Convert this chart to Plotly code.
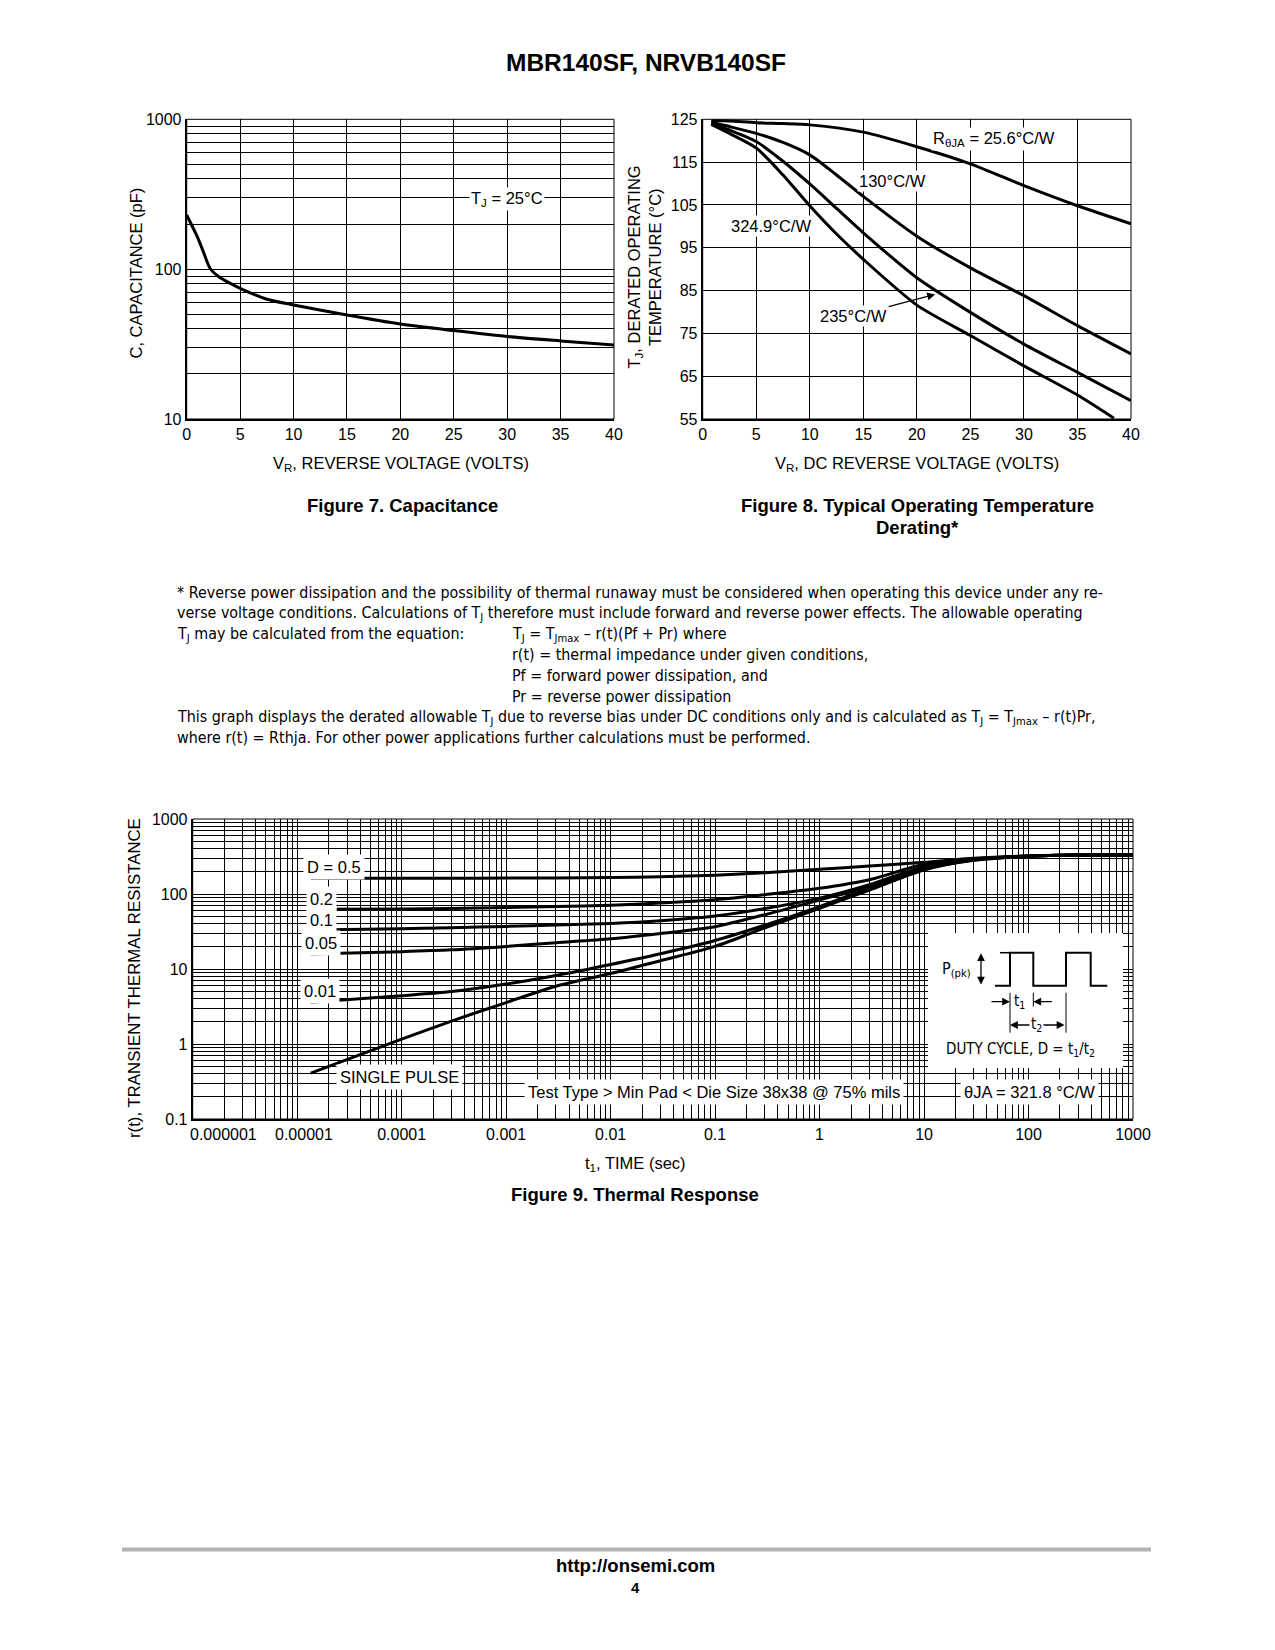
import plotly.graph_objects as go
import numpy as np

# page is 1275x1650; body keeps its default 8px margin, so the figure is 16px smaller
OFF = 8
FW, FH = 1259, 1630
def X(p): return (p - OFF) / FW
def Y(p): return 1 - (p - OFF) / FH

FONT = "Liberation Sans, Arial, Helvetica, sans-serif"
NARROW = "Liberation Sans Narrow, Arial Narrow, DejaVu Sans Condensed, Liberation Sans, sans-serif"

# ---------------- data ----------------
# Figure 7: capacitance
cap_v = [0, 1, 1.5, 2.2, 3, 4, 5, 7.5, 10, 15, 20, 25, 30, 35, 40]
cap_pf = [230, 164, 134, 101, 89, 81, 74.5, 63, 57.7, 49.4, 43, 38.9, 35.5, 33.2, 31.2]

# Figure 8: derating
v_25_6 = [0.8, 2.5, 5, 7.5, 10, 15, 20, 25, 30, 35, 40]
tj_25_6 = [124.7, 124.6, 124.2, 124.0, 123.7, 122.0, 118.6, 114.6, 109.5, 104.8, 100.6]
v_130 = [0.8, 2.5, 5, 7.5, 10, 12.5, 15, 20, 25, 30, 35, 40]
tj_130 = [124.3, 123.3, 121.7, 119.6, 116.7, 112.0, 107.0, 97.7, 90.3, 83.8, 76.8, 70.2]
v_235 = [0.8, 2.5, 5, 7.5, 10, 12.5, 15, 20, 25, 30, 35, 40]
tj_235 = [124.0, 122.5, 119.8, 115.2, 109.9, 104.2, 98.5, 88.0, 79.9, 72.5, 65.9, 59.3]
v_324_9 = [0.8, 2.5, 5, 7.5, 10, 12.5, 15, 20, 25, 30, 35, 38.4]
tj_324_9 = [123.8, 121.7, 118.3, 112.0, 104.8, 98.2, 92.3, 81.6, 74.5, 67.4, 60.6, 55.2]

# Figure 9: thermal response
t_sec = [1.35e-5, 1e-4, 3e-4, 1e-3, 3e-3, 1e-2, 3e-2, 0.1, 0.3, 1, 3, 10, 30, 100, 300, 1000]
r_d05 = [162, 162, 162, 163, 164, 166, 170, 178, 192, 213, 236, 265, 300, 322, 330, 331]
r_d02 = [62.5, 63, 64, 66, 68, 71, 76, 84, 98, 119, 155, 249, 295, 321, 330, 331]
r_d01 = [33, 34.5, 35.5, 37, 38.5, 40.5, 44, 51, 64, 88, 133, 231, 290, 320, 330, 331]
r_d005 = [15.8, 17, 18, 20, 22.4, 25.3, 29.8, 36.7, 53, 83, 126, 224, 287, 319, 330, 331]
r_d001 = [3.6, 4.4, 5.0, 6.3, 8.2, 11.5, 16, 24, 38.5, 68, 120, 214, 284, 318, 330, 331]
r_single = [0.41, 1.16, 2.02, 3.57, 5.9, 8.7, 12.9, 20, 35.5, 64.5, 113, 209, 281, 317, 330, 331]

# tick definitions
cap_x_ticks = [0, 5, 10, 15, 20, 25, 30, 35, 40]
cap_y_decades = [10, 100, 1000]
der_y_ticks = [55, 65, 75, 85, 95, 105, 115, 125]
th_x_decades = [1e-6, 1e-5, 1e-4, 1e-3, 1e-2, 1e-1, 1, 10, 100, 1000]
th_x_labels = ["0.000001", "0.00001", "0.0001", "0.001", "0.01", "0.1", "1", "10", "100", "1000"]
th_y_decades = [0.1, 1, 10, 100, 1000]
th_y_labels = ["0.1", "1", "10", "100", "1000"]


def log_grid(decades, labels, hide=()):
    vals, texts = [], []
    for i, d in enumerate(decades):
        vals.append(d)
        texts.append("" if i in hide else labels[i])
        if i < len(decades) - 1:
            for m in range(2, 10):
                vals.append(d * m)
                texts.append("")
    return vals, texts

cap_yv, cap_yt = log_grid(cap_y_decades, [str(v) for v in cap_y_decades])
th_xv, th_xt = log_grid(th_x_decades, th_x_labels, hide=(0, 1))
th_yv, th_yt = log_grid(th_y_decades, th_y_labels)

fig = go.Figure()
LW = 3
fig.add_trace(go.Scatter(x=cap_v, y=cap_pf, mode="lines", line=dict(color="black", width=LW, shape="spline", smoothing=0.7), xaxis="x", yaxis="y"))
for xs, ys in [(v_25_6, tj_25_6), (v_130, tj_130), (v_235, tj_235), (v_324_9, tj_324_9)]:
    fig.add_trace(go.Scatter(x=xs, y=ys, mode="lines", line=dict(color="black", width=LW, shape="spline", smoothing=0.7), xaxis="x2", yaxis="y2"))
for ys in [r_d05, r_d02, r_d01, r_d005, r_d001, r_single]:
    fig.add_trace(go.Scatter(x=t_sec, y=ys, mode="lines", line=dict(color="black", width=LW, shape="spline", smoothing=0.8), xaxis="x3", yaxis="y3"))

common = dict(showgrid=True, gridcolor="black", gridwidth=1, zeroline=False, showline=True,
              linecolor="black", linewidth=2, ticks="", fixedrange=True, automargin=False,
              tickfont=dict(size=16, family=FONT, color="black"))

fig.update_layout(
    width=FW, height=FH, margin=dict(l=0, r=0, t=0, b=0, pad=0, autoexpand=False),
    paper_bgcolor="white", plot_bgcolor="white", showlegend=False,
    font=dict(family=FONT, color="black", size=16),
    xaxis=dict(common, domain=[X(186.7), X(614)], range=[0, 40], tickvals=cap_x_ticks, anchor="y"),
    yaxis=dict(common, domain=[Y(419), Y(119.3)], type="log", range=[1, 3], tickvals=cap_yv, ticktext=cap_yt, anchor="x"),
    xaxis2=dict(common, domain=[X(702.7), X(1131)], range=[0, 40], tickvals=cap_x_ticks, anchor="y2"),
    yaxis2=dict(common, domain=[Y(419), Y(119.3)], range=[55, 125], tickvals=der_y_ticks, anchor="x2"),
    xaxis3=dict(common, domain=[X(192.7), X(1133)], type="log", range=[-6, 3], tickvals=th_xv, ticktext=th_xt, anchor="y3"),
    yaxis3=dict(common, domain=[Y(1119), Y(819)], type="log", range=[-1, 3], tickvals=th_yv, ticktext=th_yt, anchor="x3"),
)

shapes = []
for xa, ya in [("x", "y"), ("x2", "y2"), ("x3", "y3")]:
    shapes.append(dict(type="rect", xref=xa + " domain", yref=ya + " domain", x0=0, x1=1, y0=0, y1=1,
                       line=dict(color="black", width=1), layer="above"))
# inset box in figure 9
shapes.append(dict(type="rect", xref="paper", yref="paper", x0=X(928), x1=X(1123), y0=Y(1068), y1=Y(933),
                   fillcolor="white", line=dict(width=0), layer="above"))
# pulse waveform
pts = [(995, 985.7), (1010, 985.7), (1010, 952.7), (1033.3, 952.7), (1033.3, 985.7), (1066, 985.7),
       (1066, 952.7), (1090.7, 952.7), (1090.7, 985.7), (1107.3, 985.7)]
path = "M " + " L ".join(f"{X(a):.5f},{Y(b):.5f}" for a, b in pts)
shapes.append(dict(type="path", xref="paper", yref="paper", path=path, line=dict(color="black", width=2), layer="above"))
shapes.append(dict(type="line", xref="paper", yref="paper", x0=X(1000), x1=X(1010), y0=Y(952.7), y1=Y(952.7), line=dict(color="black", width=1.5), layer="above"))
for xx, y0, y1 in [(1010, 992.7, 1032.7), (1033.3, 992.7, 1006.7), (1066, 992.7, 1032.7)]:
    shapes.append(dict(type="line", xref="paper", yref="paper", x0=X(xx), x1=X(xx), y0=Y(y0), y1=Y(y1), line=dict(color="black", width=1), layer="above"))
# footer rule
shapes.append(dict(type="line", xref="paper", yref="paper", x0=X(122), x1=X(1151), y0=Y(1549.6), y1=Y(1549.6), line=dict(color="#b3b3b3", width=4)))
fig.update_layout(shapes=shapes)

ann = []
def txt(x, y, text, size=16.5, bold=False, family=FONT, xanchor="center", yanchor="middle", **kw):
    t = f"<b>{text}</b>" if bold else text
    d = dict(x=X(x), y=Y(y), xref="paper", yref="paper", text=t, showarrow=False,
             xanchor=xanchor, yanchor=yanchor, font=dict(size=size, family=family, color="black"))
    d.update(kw)
    ann.append(d)

# page title and captions
txt(646, 62, "MBR140SF, NRVB140SF", size=24.5, bold=True)
txt(402, 505, "Figure 7. Capacitance", size=18.5, bold=True)
txt(917, 505, "Figure 8. Typical Operating Temperature", size=18.5, bold=True)
txt(917, 528, "Derating*", size=18.5, bold=True)
txt(635, 1194, "Figure 9. Thermal Response", size=18.5, bold=True)
txt(635, 1565, "http://onsemi.com", size=18.5, bold=True)
txt(635, 1587, "4", size=15, bold=True)

# axis titles
txt(401, 464, "V<sub>R</sub>, REVERSE VOLTAGE (VOLTS)", size=16.5)
txt(135, 273.5, "C, CAPACITANCE (pF)", size=16.5, textangle=-90)
txt(634.5, 267, "T<sub>J</sub>, DERATED OPERATING", size=16.5, textangle=-90)
txt(655, 267, "TEMPERATURE (°C)", size=16.5, textangle=-90)
txt(917, 464, "V<sub>R</sub>, DC REVERSE VOLTAGE (VOLTS)", size=16.5)
txt(635, 1163.5, "t<sub>1</sub>, TIME (sec)", size=16.5)
txt(134, 978, "r(t), TRANSIENT THERMAL RESISTANCE", size=16.8, textangle=-90)

# figure 9 first two x labels (offset in original)
txt(223, 1134, "0.000001", size=16)
txt(304, 1134, "0.00001", size=16)

# figure 7 label
ann.append(dict(x=30, y=np.log10(292), xref="x", yref="y", text="T<sub>J</sub> = 25°C", showarrow=False,
                bgcolor="white", font=dict(size=16.5, family=FONT, color="black")))
# figure 8 labels
for xx, yy, t in [(27.2, 120.3, "R<sub>θJA</sub> = 25.6°C/W"), (17.7, 110.7, "130°C/W"), (6.35, 100.0, "324.9°C/W")]:
    ann.append(dict(x=xx, y=yy, xref="x2", yref="y2", text=t, showarrow=False, bgcolor="white",
                    font=dict(size=16.5, family=FONT, color="black")))
ann.append(dict(x=21.7, y=84.1, xref="x2", yref="y2", ax=14.1, ay=79.1, axref="x2", ayref="y2",
                text="235°C/W", showarrow=True, arrowhead=2, arrowsize=1.3, arrowwidth=1.2, arrowcolor="black",
                bgcolor="white", font=dict(size=16.5, family=FONT, color="black")))
# figure 9 labels
for lx, ly, t in [(-4.648, 2.364, "D = 0.5"), (-4.766, 1.933, "0.2"), (-4.772, 1.653, "0.1"),
                  (-4.775, 1.343, "0.05"), (-4.782, 0.711, "0.01"), (-4.016, -0.436, "SINGLE PULSE"),
                  (-1.007, -0.636, "Test Type &gt; Min Pad &lt; Die Size 38x38 @ 75% mils"),
                  (2.006, -0.636, "θJA = 321.8 °C/W")]:
    ann.append(dict(x=lx, y=ly, xref="x3", yref="y3", text=t, showarrow=False, bgcolor="white", borderpad=3,
                    font=dict(size=16.5, family=FONT, color="black")))

# inset contents
txt(956.7, 969.3, "P<sub>(pk)</sub>", size=16, family=NARROW)
txt(1019.3, 1001.7, "t<sub>1</sub>", size=15, family=NARROW)
txt(1020, 1049.3, "DUTY CYCLE, D = t<sub>1</sub>/t<sub>2</sub>", size=15, family=NARROW)

def arrow(hx, hy, tx, ty, both=False):
    d = dict(x=X(hx), y=Y(hy), xref="paper", yref="paper", ax=tx - hx, ay=ty - hy, text="",
             showarrow=True, arrowhead=2, arrowsize=1.2, arrowwidth=1.3, arrowcolor="black")
    if both:
        d.update(arrowside="end+start", startarrowhead=2, startarrowsize=1.2)
    ann.append(d)

arrow(981, 953.3, 981, 986, both=True)
arrow(1010, 1001.7, 990, 1001.7)
arrow(1033.3, 1001.7, 1053.3, 1001.7)
arrow(1010, 1025, 1066, 1025, both=True)
txt(1036.7, 1025, "t<sub>2</sub>", size=15, family=NARROW, bgcolor="white", borderpad=1)

# footnote paragraph
PS = 15.9
lines_left = [
    (592.3, "* Reverse power dissipation and the possibility of thermal runaway must be considered when operating this device under any re-"),
    (613.3, "verse voltage conditions. Calculations of T<sub>J</sub> therefore must include forward and reverse power effects. The allowable operating"),
    (634.4, "T<sub>J</sub> may be calculated from the equation:"),
    (717.5, "This graph displays the derated allowable T<sub>J</sub> due to reverse bias under DC conditions only and is calculated as T<sub>J</sub> = T<sub>Jmax</sub> – r(t)Pr,"),
    (737.5, "where r(t) = Rthja. For other power applications further calculations must be performed."),
]
for yy, t in lines_left:
    txt(174.6, yy, t, size=PS, family=NARROW, xanchor="left")
lines_mid = [
    (634.4, "T<sub>J</sub> = T<sub>Jmax</sub> – r(t)(Pf + Pr) where"),
    (654.3, "r(t) = thermal impedance under given conditions,"),
    (675.4, "Pf = forward power dissipation, and"),
    (696.4, "Pr = reverse power dissipation"),
]
for yy, t in lines_mid:
    txt(510, yy, t, size=PS, family=NARROW, xanchor="left")

fig.update_layout(annotations=ann)
fig.write_html("out.html", config={"displayModeBar": False})
